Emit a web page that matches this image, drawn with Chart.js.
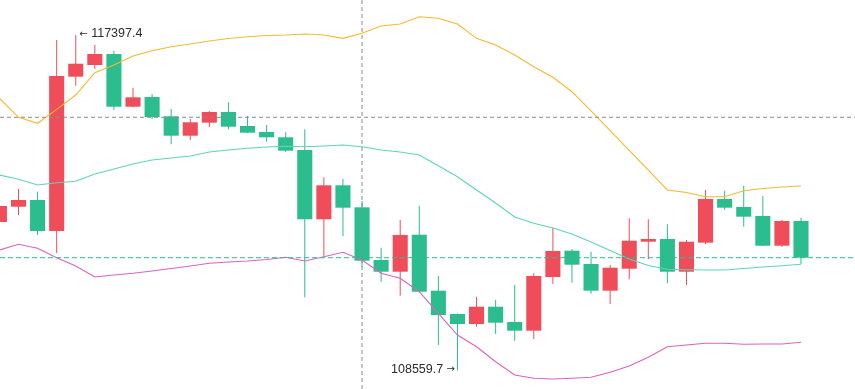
<!DOCTYPE html>
<html>
<head>
<meta charset="utf-8">
<script src="https://cdn.jsdelivr.net/npm/chart.js@4/dist/chart.umd.min.js"></script>
<style>
html,body{margin:0;padding:0;background:#fff;overflow:hidden;}
#wrap{width:855px;height:389px;position:relative;}
</style>
</head>
<body>
<div id="wrap"><canvas id="c"></canvas></div>
<script>
// ---- data ----
const opens  = [112470,112873,113050,112233,116299,116607,116897,115508,115764,115255,114744,115087,115369,115000,114841,114702,114367,112541,113437,112857,111469,111160,112135,110660,110046,109782,110238,109835,109606,111021,111714,111363,110660,111239,111951,112022,111160,111925,113076,112865,112628,111845,112496];
const highs  = [113050,113340,113268,117266,117397.4,117134,116984,116009,115843,115448,115184,115395,115624,115263,115026,114834,114913,113648,113611,113023,111793,112523,112900,111047,110059,110502,110415,110810,111118,112325,111759,111687,111337,112567,112541,112409,111996,113313,113295,113426,113155,112523,112583];
const lows   = [112365,112654,112127,111653,116061,116502,115421,115487,115184,114517,114631,114965,114913,114815,114586,114322,110486,111556,112101,111292,110897,110528,110612,109229,108559.7,109711,109519,109342,109387,110836,110871,110581,110309,110960,111487,110855,110810,111890,112786,112346,111845,111819,111363];
const closes = [112892,113050,112233,116317,116641,116897,115508,115756,115237,114744,115097,115369,114981,114823,114702,114349,112541,113437,112847,111450,111160,112127,110633,110019,109782,110238,109817,109606,111047,111706,111345,110660,111266,111977,112022,111160,111951,113076,112847,112610,111845,112496,111529];

const upperBand  = [115729,115229,115071,115437,115816,116404,116607,116844,116984,117089,117160,117239,117305,117353,117384,117397,117424,117397,117310,117442,117635,117687,117880,117837,117687,117310,117134,116870,116562,116283,115903,115400,114878,114357,113835,113313,113247,113137,113137,113295,113353,113392,113419];
const middleBand = [113708,113595,113445,113506,113545,113735,113867,113998,114104,114156,114209,114315,114367,114412,114446,114465,114454,114473,114499,114454,114367,114315,114235,113953,113664,113313,112971,112602,112436,112312,112154,111943,111719,111495,111324,111224,111210,111205,111205,111245,111284,111319,111355];
const lowerBand  = [111732,111882,111777,111529,111311,111021,111073,111118,111179,111245,111311,111382,111416,111442,111482,111542,111442,111556,111672,111469,111118,110986,110633,110064,109492,109184,108789,108438,108352,108333,108352,108378,108510,108676,108905,109184,109229,109274,109274,109247,109255,109255,109300];

const crosshairIndex = 19;
const crosshairPrice = 115229;

// ---- view window ----
const X_MIN = 0.0307, X_MAX = 44.83;
const Y_MIN = 108069.5, Y_MAX = 118319.65;

const UP = '#F04D5B', DOWN = '#2CBD8E';
const idx = closes.map((_, i) => i);
const candleColors = idx.map(i => closes[i] > opens[i] ? UP : DOWN);

const bodies = idx.map(i => ({x: i, y: [opens[i], closes[i]]}));
const wicks  = idx.map(i => ({x: i, y: [lows[i], highs[i]]}));
const toXY = arr => arr.map((v, i) => ({x: i, y: v}));

const lastClose = closes[closes.length - 1];

const labelPlugin = {
  id: 'extremes',
  afterDatasetsDraw(chart) {
    const {ctx, scales: {x, y}} = chart;
    let hi = 0, lo = 0;
    highs.forEach((v, i) => { if (v > highs[hi]) hi = i; });
    lows.forEach((v, i) => { if (v < lows[lo]) lo = i; });
    const hx = x.getPixelForValue(hi), hy = y.getPixelForValue(highs[hi]) - 1;
    const lx = x.getPixelForValue(lo), ly = y.getPixelForValue(lows[lo]) - 1;
    ctx.save();
    ctx.fillStyle = '#2b2b2b';
    ctx.textBaseline = 'middle';
    ctx.font = '12.5px "Liberation Sans", Arial, sans-serif';
    ctx.textAlign = 'left';
    ctx.fillText(highs[hi].toFixed(1), hx + 15.4, hy);
    ctx.textAlign = 'right';
    ctx.fillText(lows[lo].toFixed(1), lx - 14.3, ly);
    ctx.font = '10px "DejaVu Sans", sans-serif';
    ctx.textAlign = 'left';
    ctx.fillText('\u2190', hx + 3.5, hy);
    ctx.textAlign = 'right';
    ctx.fillText('\u2192', lx - 2.5, ly);
    ctx.restore();
  }
};

new Chart(document.getElementById('c'), {
  type: 'bar',
  data: {
    datasets: [
      {type: 'line', data: [{x: X_MIN, y: crosshairPrice}, {x: X_MAX, y: crosshairPrice}], borderColor: '#8c8c8c', borderWidth: 1, borderDash: [4, 3], pointRadius: 0, order: 0},
      {type: 'line', data: [{x: crosshairIndex, y: Y_MIN}, {x: crosshairIndex, y: Y_MAX}], borderColor: '#8c8c8c', borderWidth: 1, borderDash: [4, 3], pointRadius: 0, order: 0},
      {type: 'line', data: [{x: X_MIN, y: lastClose}, {x: X_MAX, y: lastClose}], borderColor: DOWN, borderWidth: 1, borderDash: [5, 3], pointRadius: 0, order: 0},
      {type: 'line', data: toXY(upperBand), borderColor: '#F4BA2C', borderWidth: 1.1, pointRadius: 0, tension: 0, order: 1},
      {type: 'line', data: toXY(middleBand), borderColor: '#5DD6B6', borderWidth: 1.1, pointRadius: 0, tension: 0, order: 1},
      {type: 'line', data: toXY(lowerBand), borderColor: '#DA63C2', borderWidth: 1.1, pointRadius: 0, tension: 0, order: 1},
      {type: 'bar', data: wicks, backgroundColor: candleColors, borderWidth: 0, grouped: false, maxBarThickness: 1, order: 2},
      {type: 'bar', data: bodies, backgroundColor: candleColors, borderWidth: 0, borderSkipped: false, grouped: false, categoryPercentage: 1, barPercentage: 0.79, order: 3}
    ]
  },
  options: {
    responsive: true,
    maintainAspectRatio: false,
    animation: false,
    layout: {padding: 0},
    plugins: {legend: {display: false}, tooltip: {enabled: false}},
    scales: {
      x: {type: 'linear', min: X_MIN, max: X_MAX, offset: false, display: false, ticks: {maxTicksLimit: 3}, grid: {offset: false}},
      y: {type: 'linear', min: Y_MIN, max: Y_MAX, display: false}
    }
  },
  plugins: [labelPlugin]
});
</script>
</body>
</html>
